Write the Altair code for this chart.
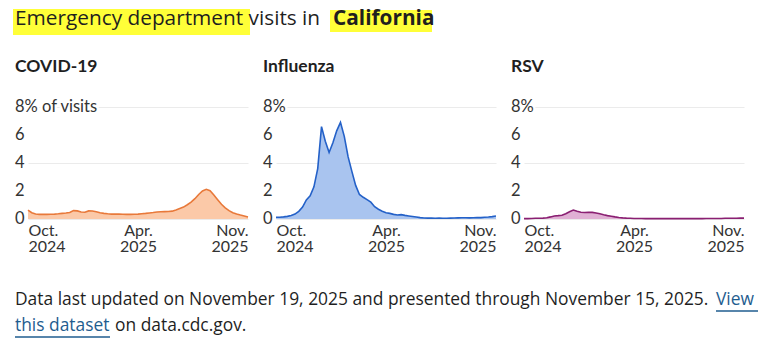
import altair as alt
import pandas as pd

# ---- data -------------------------------------------------------------
dates = pd.date_range("2024-10-05", "2025-11-15", freq="7D").strftime("%Y-%m-%d").tolist()

covid = [0.64, 0.45, 0.36, 0.33, 0.33, 0.33, 0.34, 0.35, 0.37, 0.40,
         0.43, 0.47, 0.60, 0.58, 0.50, 0.48, 0.58, 0.57, 0.52, 0.45,
         0.40, 0.37, 0.35, 0.35, 0.35, 0.34, 0.33, 0.33, 0.34, 0.35,
         0.38, 0.40, 0.43, 0.46, 0.50, 0.52, 0.53, 0.54, 0.56, 0.65,
         0.75, 0.85, 1.02, 1.20, 1.45, 1.75, 2.00, 2.12, 2.02, 1.72,
         1.38, 1.05, 0.80, 0.60, 0.45, 0.36, 0.28, 0.22, 0.15]

flu = [0.12, 0.13, 0.15, 0.19, 0.25, 0.35, 0.55, 0.85, 1.36, 1.65,
       2.30, 3.60, 6.60, 5.55, 4.75, 5.45, 6.30, 6.90, 5.90, 4.45,
       3.40, 2.40, 1.75, 1.55, 1.38, 1.20, 0.88, 0.70, 0.56, 0.45,
       0.40, 0.33, 0.29, 0.31, 0.26, 0.22, 0.18, 0.14, 0.10, 0.07,
       0.06, 0.06, 0.05, 0.06, 0.05, 0.05, 0.06, 0.07, 0.08, 0.09,
       0.09, 0.08, 0.09, 0.10, 0.10, 0.12, 0.14, 0.17, 0.21]

rsv = [0.03, 0.03, 0.04, 0.05, 0.05, 0.06, 0.09, 0.15, 0.22, 0.24,
       0.27, 0.38, 0.52, 0.64, 0.55, 0.48, 0.46, 0.47, 0.47, 0.43,
       0.37, 0.30, 0.24, 0.20, 0.15, 0.11, 0.08, 0.06, 0.05, 0.04,
       0.04, 0.04, 0.03, 0.03, 0.03, 0.03, 0.03, 0.03, 0.03, 0.03,
       0.03, 0.03, 0.03, 0.03, 0.03, 0.03, 0.03, 0.03, 0.04, 0.04,
       0.04, 0.04, 0.04, 0.05, 0.05, 0.05, 0.05, 0.06, 0.06]

panel_names = ["COVID-19", "Influenza", "RSV"]
panel_series = [covid, flu, rsv]
line_colors = ["#e8793a", "#2461c8", "#8a1f72"]
fill_colors = ["#fbc9a8", "#a9c4ef", "#e0b0d4"]

y_ticks = [0, 2, 4, 6, 8]
x_tick_dates = ["2024-10-05", "2025-04-26", "2025-11-15"]

title_regular = "Emergency department visits in "
title_bold = "California"
footer_line1 = "Data last updated on November 19, 2025 and presented through November 15, 2025."
footer_link1 = "View"
footer_link2 = "this dataset"
footer_line2 = "on data.cdc.gov."

FONT = "Lato"
FONT2 = "Open Sans"
TEXT = "#1f1f1f"
LINK = "#1f5d8f"
W, H = 220, 112


def one():
    return alt.Data(values=[{"a": 1}])


def text_layer(txt, x, y, size, weight="normal", color=TEXT, font=FONT):
    return alt.Chart(one()).mark_text(
        text=txt, font=font, fontSize=size, fontWeight=weight, color=color,
        align="left", baseline="middle"
    ).encode(x=alt.value(x), y=alt.value(y))


def rect_layer(x, x2, y, y2, color, opacity=1.0):
    return alt.Chart(one()).mark_rect(color=color, opacity=opacity).encode(
        x=alt.value(x), x2=alt.value(x2), y=alt.value(y), y2=alt.value(y2)
    )


def rule_layer(x, x2, y, color):
    return alt.Chart(one()).mark_rule(color=color, strokeWidth=1.3).encode(
        x=alt.value(x), x2=alt.value(x2), y=alt.value(y)
    )


x_values = [alt.DateTime(year=int(d[:4]), month=int(d[5:7]), date=int(d[8:]), utc=True)
            for d in x_tick_dates]


def panel(i):
    df = pd.DataFrame({"date": dates, "value": panel_series[i]})
    xenc = alt.X(
        "date:T",
        scale=alt.Scale(nice=False, padding=0),
        axis=alt.Axis(
            values=x_values, title=None, grid=False, domain=False, ticks=False, tickSize=0,
            labelFlush=True, labelOverlap=False, labelFont=FONT, labelFontSize=16,
            labelColor="#333333", labelPadding=3, labelBaseline="top", labelLineHeight=16,
            labelExpr="[utcFormat(datum.value, '%b') + '.', utcFormat(datum.value, '%Y')]",
        ),
    )
    yenc = alt.Y(
        "value:Q",
        scale=alt.Scale(domain=[0, 8], nice=False),
        axis=alt.Axis(values=y_ticks, title=None, labels=False, ticks=False, tickSize=0,
                      domain=False, grid=True, gridColor="#ebebeb", gridWidth=1),
    )
    base = alt.Chart(df)
    area = base.mark_area(color=fill_colors[i], opacity=1).encode(x=xenc, y=yenc)
    line = base.mark_line(color=line_colors[i], strokeWidth=1.6).encode(x=xenc, y=yenc)

    lab = pd.DataFrame({
        "v": y_ticks,
        "t": ["0", "2", "4", "6", "8% of visits" if i == 0 else "8%"],
    })
    halo = alt.Chart(lab).mark_text(
        font=FONT, fontSize=16.5, align="left", baseline="middle",
        color="white", stroke="white", strokeWidth=5
    ).encode(x=alt.value(-13), y=alt.Y("v:Q"), text="t:N")
    labels = alt.Chart(lab).mark_text(
        font=FONT, fontSize=16.5, align="left", baseline="middle", color="#333333"
    ).encode(x=alt.value(-13), y=alt.Y("v:Q"), text="t:N")

    ptitle = text_layer(panel_names[i], -13, -40, 17.5, weight="bold")

    layers = [area, line, halo, labels, ptitle]
    if i == 0:
        extra = [
            rect_layer(-28, 744, -107, 246, "white", opacity=0),  # page frame
            rect_layer(-15, 222, -98, -72, "#ffff38"),
            rect_layer(302, 404, -97, -75, "#ffff38"),
            text_layer(title_regular, -13, -88, 20.8, font=FONT2),
            text_layer(title_bold, 305, -88, 20.8, weight="bold", font=FONT2),
            text_layer(footer_line1, -13, 193, 17.4, font=FONT2),
            text_layer(footer_link1, 688, 193, 17.4, color=LINK, font=FONT2),
            rule_layer(688, 730, 204, LINK),
            text_layer(footer_link2, -13, 219, 17.4, color=LINK, font=FONT2),
            rule_layer(-13, 82, 230, LINK),
            text_layer(footer_line2, 87, 219, 17.4, font=FONT2),
        ]
        layers = extra + layers
    return alt.layer(*layers).properties(width=W, height=H)


chart = alt.hconcat(panel(0), panel(1), panel(2), spacing=28, bounds="flush").properties(
    padding=0, background="white"
).configure_view(stroke="transparent", strokeWidth=0)

chart.save("out.html", embed_options={"renderer": "svg", "actions": False})
